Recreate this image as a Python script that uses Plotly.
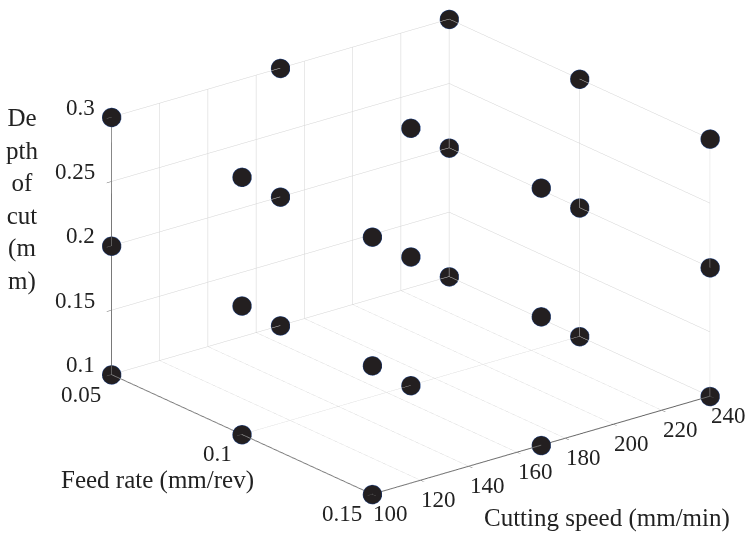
import plotly.graph_objects as go
import itertools

# Design factors (3-level full factorial, 27 runs)
cutting_speed_levels = [100, 170, 240]      # mm/min
feed_rate_levels = [0.05, 0.10, 0.15]       # mm/rev
depth_of_cut_levels = [0.1, 0.2, 0.3]       # mm

speed_ticks = [100, 120, 140, 160, 180, 200, 220, 240]
feed_ticks = [0.05, 0.1, 0.15]
feed_tick_text = ["0.05", "0.1", "0.15"]
depth_ticks = [0.1, 0.15, 0.2, 0.25, 0.3]
depth_tick_text = ["0.1", "0.15", "0.2", "0.25", "0.3"]

runs = list(itertools.product(cutting_speed_levels, feed_rate_levels, depth_of_cut_levels))
speed = [r[0] for r in runs]
feed = [r[1] for r in runs]
depth = [r[2] for r in runs]

FONT = "Liberation Serif"
TXT = "#222222"
S = 1.572
cx, cy, cz = -0.0763, -0.1176, -0.0343
ex, ey, ez = 0.7286 * 1.6, -0.5795 * 1.6, 0.365 * 1.6

feed_rng = [min(feed_ticks), max(feed_ticks)]
speed_rng = [min(speed_ticks), max(speed_ticks)]
depth_rng = [min(depth_ticks), max(depth_ticks)]

fig = go.Figure(go.Scatter3d(
    x=feed, y=speed, z=depth,
    mode="markers",
    marker=dict(size=11, color="#231f20", line=dict(color="#1f4080", width=3), opacity=1),
    hoverinfo="skip",
))

axis_common = dict(
    showbackground=False,
    gridcolor="#d3d3d3",
    gridwidth=1,
    showline=True,
    linecolor="#666666",
    linewidth=2,
    zeroline=False,
    showspikes=False,
    ticks="outside",
    ticklen=6,
    tickcolor="#666666",
    showticklabels=False,
    title=dict(text=""),
)

tick_font = dict(family=FONT, size=23, color=TXT)
scene_annotations = []
# depth-of-cut tick labels along the left vertical edge
for v, t in zip(depth_ticks, depth_tick_text):
    scene_annotations.append(dict(x=feed_rng[0], y=speed_rng[0], z=v, text=t, showarrow=False,
                                  xanchor="right", yanchor="middle", xshift=-14, yshift=10, font=tick_font))
# feed-rate tick labels along the lower-left edge
for v, t in zip(feed_ticks, feed_tick_text):
    scene_annotations.append(dict(x=v, y=speed_rng[0], z=depth_rng[0], text=t, showarrow=False,
                                  xanchor="right", yanchor="top", xshift=-8, yshift=-5, font=tick_font))
# cutting-speed tick labels along the lower-right edge
for v in speed_ticks:
    scene_annotations.append(dict(x=feed_rng[1], y=v, z=depth_rng[0], text=str(v), showarrow=False,
                                  xanchor="left", yanchor="top", xshift=-1, yshift=-5, font=tick_font))

fig.update_layout(
    width=747, height=533,
    margin=dict(l=0, r=0, t=0, b=0),
    paper_bgcolor="white",
    showlegend=False,
    scene=dict(
        domain=dict(x=[0, 1.0], y=[0, 1.0]),
        xaxis=dict(range=feed_rng, tickvals=feed_ticks, **axis_common),
        yaxis=dict(range=speed_rng, tickvals=speed_ticks, **axis_common),
        zaxis=dict(range=depth_rng, tickvals=depth_ticks, **axis_common),
        aspectmode="manual",
        aspectratio=dict(x=1.0 * S, y=1.03 * S, z=0.66 * S),
        camera=dict(
            projection=dict(type="orthographic"),
            eye=dict(x=ex + cx, y=ey + cy, z=ez + cz),
            up=dict(x=0, y=0, z=1),
            center=dict(x=cx, y=cy, z=cz),
        ),
        annotations=scene_annotations,
    ),
    annotations=[
        dict(text="Feed rate (mm/rev)", x=157 / 747, y=1 - 480 / 533, xref="paper", yref="paper",
             showarrow=False, font=dict(family=FONT, size=25, color=TXT), xanchor="center", yanchor="middle"),
        dict(text="Cutting speed (mm/min)", x=607 / 747, y=1 - 518 / 533, xref="paper", yref="paper",
             showarrow=False, font=dict(family=FONT, size=25, color=TXT), xanchor="center", yanchor="middle"),
        dict(text="De<br>pth<br>of<br>cut<br>(m<br>m)", x=22 / 747, y=1 - 199 / 533, xref="paper", yref="paper",
             showarrow=False, font=dict(family=FONT, size=25, color=TXT), xanchor="center", yanchor="middle",
             align="center"),
    ],
)

fig.write_html("out.html")
